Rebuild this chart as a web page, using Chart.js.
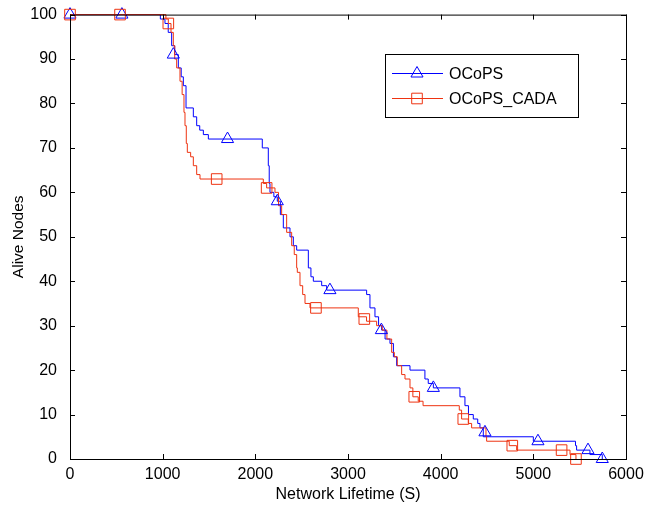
<!DOCTYPE html>
<html>
<head>
<meta charset="utf-8">
<script src="https://cdn.jsdelivr.net/npm/chart.js@4"></script>
<style>
  body { margin: 0; background: #fff; }
  canvas { display: block; }
</style>
</head>
<body>
<canvas id="lifeChart" width="657" height="506"></canvas>
<script>
// tick labels
const xTicks = [0, 1000, 2000, 3000, 4000, 5000, 6000];
const yTicks = [0, 10, 20, 30, 40, 50, 60, 70, 80, 90, 100];

// OCoPS: time (s) at which alive count becomes the value
const ocopsTime = [0, 975, 1025, 1060, 1097, 1130, 1169, 1200, 1223, 1252, 1331, 1367, 1400, 1439, 1493, 2075, 2140, 2150, 2158, 2200,
  2237, 2270, 2302, 2374, 2410, 2446, 2572, 2600, 2626, 2716, 2770, 3201, 3237, 3291, 3330, 3363, 3400, 3453, 3490, 3525,
  3669, 3830, 3866, 3921, 4208, 4262, 4300, 4352, 4400, 4424, 4460, 5000, 5455, 5467, 5611, 5744];
const ocopsAlive = [100, 99, 98, 96, 93, 91, 88, 86, 84, 79, 77, 75, 74, 73, 72, 70, 66, 62, 60, 59,
  58, 55, 52, 50, 48, 47, 43, 41, 40, 39, 38, 37, 34, 32, 30, 29, 27, 26, 23, 21,
  20, 18, 17, 16, 14, 12, 10, 9, 8, 7, 5, 4, 3, 2, 1, 0];
const ocopsMarkTime = [0, 560, 1115, 1700, 2237, 2805, 3360, 3921, 4478, 5050, 5590, 5744];
const ocopsMarkAlive = [100, 100, 91, 72, 58, 38, 29, 16, 6, 4, 2, 0];

// OCoPS_CADA
const cadaTime = [0, 1035, 1061, 1090, 1115, 1130, 1151, 1187, 1210, 1230, 1241, 1255, 1266, 1302, 1331, 1367, 1403, 2086, 2122, 2212,
  2250, 2284, 2338, 2392, 2420, 2446, 2453, 2482, 2511, 2536, 2590, 3111, 3200, 3309, 3370, 3420, 3471, 3500, 3532, 3579,
  3615, 3669, 3700, 3758, 3810, 4201, 4226, 4298, 4334, 4489, 4496, 4740, 4820, 5396, 5460];
const cadaAlive = [100, 99, 98, 96, 93, 90, 88, 85, 82, 78, 75, 71, 69, 68, 66, 64, 63, 62, 61, 60,
  57, 55, 51, 48, 46, 43, 42, 39, 37, 35, 34, 32, 31, 30, 29, 27, 24, 23, 21, 19,
  18, 16, 14, 13, 12, 11, 9, 8, 7, 5, 4, 3, 2, 1, 0];
const cadaMarkTime = [0, 540, 1061, 1583, 2122, 2654, 3176, 3715, 4244, 4773, 5305, 5460];
const cadaMarkAlive = [100, 100, 98, 63, 61, 34, 31.5, 14, 9, 3, 2, 0];

const BLUE = '#0000ff';
const RED = '#ee3311';
const FONT = 'Liberation Sans, Arial, Helvetica, sans-serif';

const toPts = (xs, ys) => xs.map((t, i) => ({ x: t, y: ys[i] }));

// box + inward ticks, MATLAB style
const matlabAxes = {
  id: 'matlabAxes',
  afterDatasetsDraw(chart) {
    const { ctx, chartArea: a, scales: { x, y } } = chart;
    ctx.save();
    ctx.strokeStyle = '#000';
    ctx.lineWidth = 1;
    ctx.beginPath();
    xTicks.forEach(v => {
      const px = Math.round(x.getPixelForValue(v)) + 0.5;
      ctx.moveTo(px, a.bottom); ctx.lineTo(px, a.bottom - 5);
      ctx.moveTo(px, a.top); ctx.lineTo(px, a.top + 5);
    });
    yTicks.forEach(v => {
      const py = Math.round(y.getPixelForValue(v)) + 0.5;
      ctx.moveTo(a.left, py); ctx.lineTo(a.left + 5, py);
      ctx.moveTo(a.right, py); ctx.lineTo(a.right - 5, py);
    });
    ctx.stroke();
    ctx.strokeRect(a.left + 0.5, a.top + 0.5, a.right - a.left, a.bottom - a.top);
    ctx.restore();
  }
};

// legend box with line + marker samples
const boxLegend = {
  id: 'boxLegend',
  afterDraw(chart) {
    const ctx = chart.ctx;
    const items = [
      { label: 'OCoPS', color: BLUE, style: 'triangle', r: 7 },
      { label: 'OCoPS_CADA', color: RED, style: 'rect', r: 7.5 }
    ];
    ctx.save();
    ctx.fillStyle = '#fff';
    ctx.fillRect(385.5, 54.5, 193, 63);
    ctx.strokeStyle = '#000';
    ctx.lineWidth = 1;
    ctx.strokeRect(385.5, 54.5, 193, 63);
    items.forEach((it, i) => {
      const cy = 73.5 + i * 25;
      ctx.strokeStyle = it.color;
      ctx.beginPath();
      ctx.moveTo(392, cy); ctx.lineTo(443, cy);
      ctx.stroke();
      ctx.fillStyle = 'rgba(0,0,0,0)';
      Chart.helpers.drawPoint(ctx, { pointStyle: it.style, radius: it.r, borderWidth: 1, rotation: 0 }, 417, cy);
      ctx.fillStyle = '#000';
      ctx.font = '16px ' + FONT;
      ctx.textBaseline = 'middle';
      ctx.fillText(it.label, 449, cy + 1);
    });
    ctx.restore();
  }
};

const ctx = document.getElementById('lifeChart').getContext('2d');
new Chart(ctx, {
  type: 'line',
  data: {
    datasets: [
      {
        label: 'OCoPS_CADA marks',
        data: toPts(cadaMarkTime, cadaMarkAlive),
        showLine: false,
        pointStyle: 'rect',
        pointRadius: 7.5,
        pointBorderWidth: 1,
        pointBorderColor: RED,
        pointBackgroundColor: 'rgba(0,0,0,0)',
        clip: false,
        order: 0
      },
      {
        label: 'OCoPS marks',
        data: toPts(ocopsMarkTime, ocopsMarkAlive),
        showLine: false,
        pointStyle: 'triangle',
        pointRadius: 7,
        pointBorderWidth: 1,
        pointBorderColor: BLUE,
        pointBackgroundColor: 'rgba(0,0,0,0)',
        clip: false,
        order: 0
      },
      {
        label: 'OCoPS_CADA',
        data: toPts(cadaTime, cadaAlive),
        stepped: 'before',
        borderColor: RED,
        borderWidth: 1,
        pointRadius: 0,
        clip: false,
        order: 1
      },
      {
        label: 'OCoPS',
        data: toPts(ocopsTime, ocopsAlive),
        stepped: 'before',
        borderColor: BLUE,
        borderWidth: 1,
        pointRadius: 0,
        clip: false,
        order: 2
      }
    ]
  },
  options: {
    responsive: false,
    animation: false,
    layout: { padding: { top: 13, right: 31, left: 0, bottom: 0 } },
    plugins: {
      legend: { display: false },
      tooltip: { enabled: false }
    },
    scales: {
      x: {
        type: 'linear',
        min: xTicks[0],
        max: xTicks[xTicks.length - 1],
        afterBuildTicks: s => { s.ticks = xTicks.map(v => ({ value: v })); },
        afterFit: s => { s.height = 47; },
        grid: { display: false },
        border: { display: false },
        ticks: {
          color: '#000',
          padding: -2,
          maxRotation: 0,
          font: { family: FONT, size: 16 },
          callback: v => String(v)
        },
        title: {
          display: true,
          text: 'Network Lifetime (S)',
          color: '#000',
          padding: { top: 0, bottom: 2 },
          font: { family: FONT, size: 16 }
        }
      },
      y: {
        min: yTicks[0],
        max: yTicks[yTicks.length - 1],
        afterBuildTicks: s => { s.ticks = yTicks.map(v => ({ value: v })); },
        afterFit: s => { s.width = 70; },
        grid: { display: false },
        border: { display: false },
        ticks: { color: '#000', padding: 5, font: { family: FONT, size: 16 }, callback: v => String(v) },
        title: {
          display: true,
          text: 'Alive Nodes',
          color: '#000',
          padding: { top: 9, bottom: 0 },
          font: { family: FONT, size: 15.5 }
        }
      }
    }
  },
  plugins: [matlabAxes, boxLegend]
});
</script>
</body>
</html>
